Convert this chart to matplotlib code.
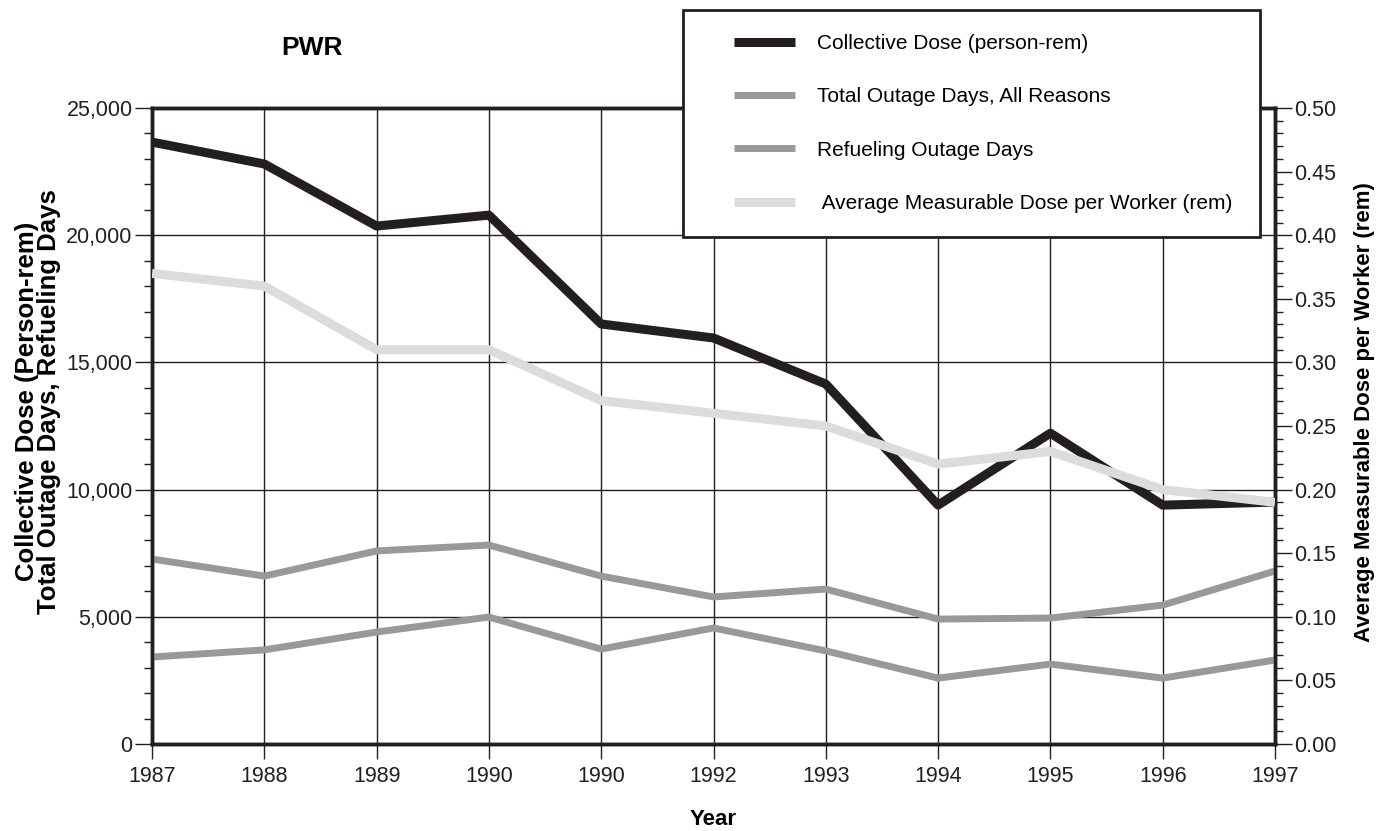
import numpy as np
import matplotlib
matplotlib.use("Agg")
import matplotlib.pyplot as plt
from matplotlib.ticker import MultipleLocator, FuncFormatter
from matplotlib.legend_handler import HandlerLine2D

# DATA

years = ["1987", "1988", "1989", "1990", "1990", "1992", "1993", "1994", "1995", "1996", "1997"]
collective_dose = [23660, 22800, 20360, 20790, 16510, 15960, 14150, 9390, 12220, 9390, 9510]
total_outage = [7270, 6600, 7590, 7820, 6600, 5780, 6090, 4910, 4950, 5460, 6800]
refuel_outage = [3420, 3700, 4400, 4990, 3730, 4560, 3660, 2590, 3140, 2590, 3300]
avg_dose = [0.37, 0.36, 0.31, 0.31, 0.27, 0.26, 0.25, 0.22, 0.23, 0.20, 0.19]

NARROW = ["Liberation Sans Narrow", "Liberation Sans", "DejaVu Sans"]
BOLD = ["Liberation Sans", "DejaVu Sans"]
ink = "#231f20"

# FIGURE

fig = plt.figure(figsize=(13.91, 8.31), dpi=100)
ax = fig.add_axes([0.1093, 0.1047, 0.8073, 0.7653])
ax2 = ax.twinx()

x = np.arange(len(years))

l1, = ax.plot(x, collective_dose, color=ink, lw=6.5, solid_capstyle="butt", zorder=3)
l2, = ax.plot(x, total_outage, color="#999999", lw=5, solid_capstyle="butt", zorder=3)
l3, = ax.plot(x, refuel_outage, color="#999999", lw=5, solid_capstyle="butt", zorder=3)
l4, = ax2.plot(x, avg_dose, color="#dcdcdc", lw=6.5, solid_capstyle="butt", zorder=3)

ax.set_xlim(0, len(years) - 1)
ax.set_ylim(0, 25000)
ax2.set_ylim(0, 0.5)

ax.set_xticks(x)
ax.set_xticklabels(years)
ax.yaxis.set_major_locator(MultipleLocator(5000))
ax.yaxis.set_minor_locator(MultipleLocator(1000))
ax.yaxis.set_major_formatter(FuncFormatter(lambda v, p: f"{int(v):,}"))
ax2.yaxis.set_major_locator(MultipleLocator(0.05))
ax2.yaxis.set_minor_locator(MultipleLocator(0.01))
ax2.yaxis.set_major_formatter(FuncFormatter(lambda v, p: f"{v:.2f}"))

ax.grid(True, which="major", color=ink, lw=1.0, zorder=1)
ax.set_axisbelow(True)

for a in (ax, ax2):
    for s in a.spines.values():
        s.set_linewidth(2.5)
        s.set_color(ink)
ax.tick_params(axis="y", which="major", length=12, width=1, color=ink,
               labelsize=15.5, pad=2)
ax.tick_params(axis="x", which="major", length=11, width=1, color=ink,
               labelsize=15.5, pad=5)
ax.tick_params(axis="y", which="minor", length=6, width=1, color=ink)
ax2.tick_params(axis="y", which="major", length=12, width=1, color=ink,
                labelsize=15.5, pad=2)
ax2.tick_params(axis="y", which="minor", length=6, width=1, color=ink)
for lab in ax.get_xticklabels() + ax.get_yticklabels() + ax2.get_yticklabels():
    lab.set_family(NARROW)
    lab.set_color(ink)

ax.set_xlabel("Year", family=BOLD, fontweight="bold", fontsize=16)
ax.xaxis.set_label_coords(0.5, -0.103)
ax.set_ylabel("Collective Dose (Person-rem)\nTotal Outage Days, Refueling Days",
              family=BOLD, fontweight="bold", fontsize=18.5, linespacing=0.9)
ax.yaxis.set_label_coords(-0.081, 0.538)
ax2.set_ylabel("Average Measurable Dose per Worker (rem)", family=BOLD,
               fontweight="bold", fontsize=16)
ax2.yaxis.set_label_coords(1.0706, 0.522)

fig.text(0.2243, 0.942, "PWR", family=BOLD, fontweight="bold", fontsize=19,
         ha="center", va="center")

# LEGEND

fs = 15
hl = {h: HandlerLine2D(xpad=1.3) for h in (l1, l2, l3, l4)}
leg = ax2.legend([l1, l2, l3, l4],
                 ["Collective Dose (person-rem)", "Total Outage Days, All Reasons",
                  "Refueling Outage Days", " Average Measurable Dose per Worker (rem)"],
                 loc="upper left", bbox_to_anchor=(0.491, 0.988, 0.4148, 0.0),
                 bbox_transform=fig.transFigure, mode="expand",
                 prop={"family": NARROW, "size": fs}, frameon=True,
                 fancybox=False, edgecolor=ink, framealpha=1,
                 handlelength=4.25, handletextpad=1.05, labelspacing=1.65,
                 borderpad=1.15, borderaxespad=0, handler_map=hl)
leg.get_frame().set_linewidth(2)
leg.set_zorder(10)

fig.savefig("out.png", dpi=100)
